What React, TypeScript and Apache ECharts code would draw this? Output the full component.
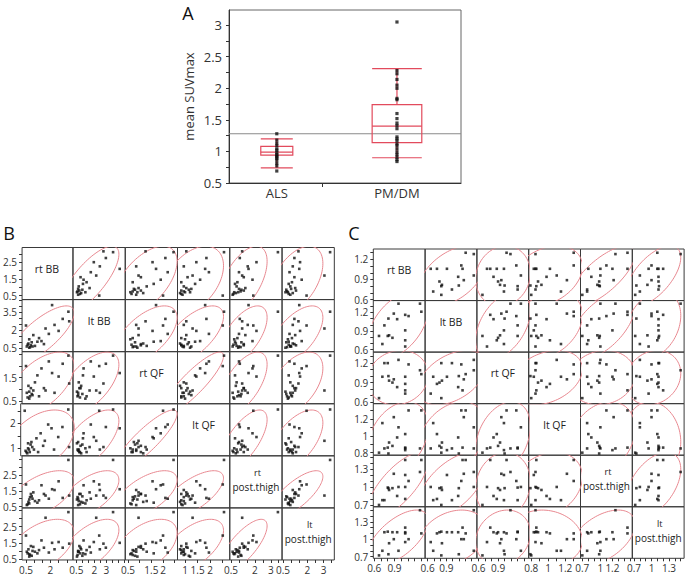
import React, { useEffect, useRef } from "react";
import * as echarts from "echarts";

// ---------- Panel A data ----------
const groups = ["ALS", "PM/DM"];
const alsValues = [1.28, 1.18, 1.13, 1.09, 1.04, 1.02, 0.98, 0.95, 0.93, 0.91, 0.89, 0.86, 0.81, 0.77, 0.69];
const pmdmValues = [3.05, 2.28, 2.23, 2.14, 2.05, 2.0, 1.84, 1.82, 1.6, 1.52, 1.45, 1.41, 1.36, 1.23, 1.2, 1.17, 1.12, 1.09, 1.04, 0.99, 0.95, 0.91, 0.87, 0.84];
// [lower cap, Q1, median, Q3, upper cap]
const alsBox = [0.74, 0.94, 0.99, 1.08, 1.2];
const pmdmBox = [0.9, 1.14, 1.4, 1.74, 2.31];
const grandMean = 1.28;
const yTicksA = [0.5, 1, 1.5, 2, 2.5, 3];

// ---------- Panel B (PM/DM) data ----------
const varNames = ["rt BB", "lt BB", "rt QF", "lt QF", "rt post.thigh", "lt post.thigh"];
const pm_rtBB = [3.10, 2.10, 3.15, 2.75, 2.25, 2.50, 0.50, 1.90, 1.70, 1.45, 1.30, 1.60, 1.20, 0.95, 1.05, 0.85, 0.80, 0.70, 0.90, 0.65, 0.75, 0.60, 0.70, 0.55];
const pm_ltBB = [3.55, 4.10, 2.75, 2.95, 2.45, 1.95, 2.40, 1.70, 2.15, 1.10, 1.35, 0.85, 1.05, 1.60, 0.70, 1.00, 0.75, 1.25, 0.65, 0.90, 0.60, 0.80, 0.55, 0.65];
const pm_rtQF = [2.45, 1.70, 1.25, 2.10, 0.85, 1.55, 2.00, 2.20, 0.95, 1.90, 0.70, 1.05, 1.60, 0.95, 1.30, 0.80, 1.05, 0.60, 0.75, 1.15, 0.70, 0.65, 0.90, 0.85];
const pm_ltQF = [2.55, 1.80, 1.05, 1.85, 0.95, 1.45, 2.50, 1.95, 1.30, 1.60, 0.85, 1.10, 1.40, 1.05, 0.95, 1.15, 0.85, 1.00, 1.25, 0.80, 0.95, 0.85, 1.20, 0.90];
const pm_rtPT = [3.45, 1.60, 1.20, 1.05, 1.55, 2.10, 1.90, 1.00, 1.20, 1.85, 0.90, 1.30, 0.75, 1.40, 0.85, 1.15, 1.30, 0.70, 1.00, 0.80, 1.10, 0.65, 0.95, 0.60];
const pm_ltPT = [3.40, 1.50, 1.45, 1.20, 1.10, 1.55, 1.95, 0.90, 3.05, 1.65, 1.05, 1.20, 0.85, 1.25, 0.95, 0.70, 1.30, 0.80, 1.00, 1.10, 0.75, 0.85, 0.65, 0.95];
const pmRanges = [[0.26, 3.38], [0.22, 4.56], [0.38, 2.62], [0.7, 2.78], [0.42, 3.71], [0.44, 3.66]];
const pmYLabels = [[0.5, 1.5, 2.5], [0.5, 2, 3.5], [0.5, 1.5], [1, 2], [0.5, 1.5, 2.5], [0.5, 1.5, 2.5]];
const pmXLabels = [[0.5, 2], [0.5, 2, 3], [0.5, 1.5, 2], [1, 1.5, 2], [0.5, 2, 3], [0.5, 2, 3]];

// ---------- Panel C (ALS) data ----------
const als_rtBB = [1.30, 1.28, 1.06, 1.06, 1.06, 1.11, 1.06, 0.96, 0.94, 0.87, 0.82, 0.80, 0.72, 0.75, 0.67, 0.89, 0.81];
const als_ltBB = [1.21, 1.34, 0.65, 0.75, 0.91, 1.14, 1.16, 1.34, 1.09, 0.79, 0.83, 0.82, 0.69, 0.99, 0.82, 1.18, 1.10];
const als_rtQF = [1.03, 1.09, 0.73, 0.88, 0.99, 1.18, 0.78, 1.25, 0.83, 0.90, 0.93, 1.20, 0.99, 1.20, 0.66, 0.95, 1.00];
const als_ltQF = [1.30, 0.85, 0.85, 1.02, 0.83, 1.30, 0.86, 1.10, 0.98, 0.88, 0.92, 0.86, 1.15, 0.85, 0.80, 1.22, 0.79];
const als_rtPT = [1.45, 1.25, 1.00, 0.80, 1.20, 1.10, 1.45, 1.00, 0.85, 0.98, 0.95, 0.99, 0.78, 0.78, 0.70, 1.22, 0.98];
const als_ltPT = [1.10, 1.50, 0.95, 1.10, 1.12, 1.00, 1.20, 0.80, 1.12, 1.12, 0.93, 1.13, 0.80, 1.12, 0.72, 1.00, 0.74];
const alsRanges = [[0.585, 1.356], [0.56, 1.39], [0.575, 1.37], [0.77, 1.38], [0.67, 1.53], [0.67, 1.56]];
const alsYLabels = [[0.6, 0.9, 1.2], [0.6, 0.9, 1.2], [0.6, 0.9, 1.2], [0.8, 1, 1.2], [0.7, 1, 1.3], [0.7, 1, 1.3]];
const alsXLabels = [[0.6, 0.9], [0.6, 0.9], [0.6, 0.9], [0.8, 1, 1.2], [0.7, 1, 1.2], [0.7, 1, 1.3]];

// ---------- layout constants ----------
const FONT = "Open Sans";
const groupCenters = [20.6, 72.4];
const groupHalfWidths = [6.9, 10.7];
const groupDivider = 40.2;
const BOX_RED = "#e24a5c";
const ELL_RED = "#e88890";

function tickVals(min: number, max: number, step: number) {
  const out: number[] = [];
  for (let v = Math.ceil(min / step - 1e-9) * step; v <= max + 1e-9; v += step) out.push(+v.toFixed(3));
  return out;
}

function ellipsePts(xs: number[], ys: number[]) {
  const n = xs.length;
  const mx = xs.reduce((a, b) => a + b, 0) / n;
  const my = ys.reduce((a, b) => a + b, 0) / n;
  let sxx = 0, syy = 0, sxy = 0;
  for (let k = 0; k < n; k++) {
    sxx += (xs[k] - mx) ** 2;
    syy += (ys[k] - my) ** 2;
    sxy += (xs[k] - mx) * (ys[k] - my);
  }
  sxx /= n - 1; syy /= n - 1; sxy /= n - 1;
  const a = Math.sqrt(sxx);
  const b = sxy / a;
  const c = Math.sqrt(Math.max(syy - b * b, 1e-9));
  const r = Math.sqrt(5.991);
  const pts: number[][] = [];
  for (let s = 0; s <= 96; s++) {
    const t = (s / 96) * Math.PI * 2;
    pts.push([mx + r * a * Math.cos(t), my + r * (b * Math.cos(t) + c * Math.sin(t))]);
  }
  return pts;
}

const fmt = (v: any) => `${+(+v).toFixed(2)}`;

function buildOption() {
  const grids: any[] = [];
  const xAxes: any[] = [];
  const yAxes: any[] = [];
  const series: any[] = [];
  const graphics: any[] = [];

  // ----- Panel A -----
  grids.push({ left: 229, top: 10, width: 232, height: 173, show: true, borderColor: "#666", borderWidth: 1 });
  xAxes.push({
    gridIndex: 0, type: "value", min: 0, max: 100,
    axisLine: { show: true, onZero: false, lineStyle: { color: "#333" } },
    axisTick: { show: true, customValues: [groupDivider], length: 4, lineStyle: { color: "#333" } },
    axisLabel: {
      customValues: groupCenters, fontSize: 13, margin: 3, color: "#333", fontFamily: FONT,
      formatter: (v: any) => groups[groupCenters.findIndex((c) => Math.abs(c - +v) < 0.01)] ?? "",
    },
    splitLine: { show: false },
  });
  yAxes.push({
    gridIndex: 0, type: "value", min: 0.5, max: 3.24,
    name: "mean SUVmax", nameLocation: "middle", nameGap: 34,
    nameTextStyle: { fontSize: 13, color: "#333", fontFamily: FONT },
    axisLine: { show: true, onZero: false, lineStyle: { color: "#333" } },
    axisTick: { show: true, customValues: tickVals(0.5, 3.24, 0.25), length: 3, lineStyle: { color: "#333" } },
    axisLabel: { customValues: yTicksA, fontSize: 13, margin: 7, color: "#333", fontFamily: FONT, formatter: fmt },
    splitLine: { show: false },
  });
  series.push({
    type: "line", xAxisIndex: 0, yAxisIndex: 0, silent: true, symbol: "none",
    data: [[0, grandMean], [100, grandMean]], lineStyle: { color: "#8a8a8a", width: 1 }, z: 1,
  });
  series.push({
    type: "custom", xAxisIndex: 0, yAxisIndex: 0, silent: true, z: 2,
    data: [[groupCenters[0], ...alsBox], [groupCenters[1], ...pmdmBox]],
    renderItem: (params: any, api: any) => {
      const c = api.value(0);
      const lo = api.value(1), q1 = api.value(2), med = api.value(3), q3 = api.value(4), hi = api.value(5);
      const hw = groupHalfWidths[params.dataIndex];
      const pL = api.coord([c - hw, q3]);
      const pR = api.coord([c + hw, q1]);
      const line = (x1: number, y1: number, x2: number, y2: number) => {
        const a = api.coord([x1, y1]);
        const b = api.coord([x2, y2]);
        return { type: "line", shape: { x1: a[0], y1: a[1], x2: b[0], y2: b[1] }, style: { stroke: BOX_RED, lineWidth: 1.2 } };
      };
      return {
        type: "group",
        children: [
          { type: "rect", shape: { x: pL[0], y: pL[1], width: pR[0] - pL[0], height: pR[1] - pL[1] }, style: { fill: "none", stroke: BOX_RED, lineWidth: 1.2 } },
          line(c - hw, med, c + hw, med),
          line(c - hw, hi, c + hw, hi),
          line(c - hw, lo, c + hw, lo),
          line(c, q3, c, hi),
          line(c, q1, c, lo),
        ],
      };
    },
  });
  series.push({
    type: "scatter", xAxisIndex: 0, yAxisIndex: 0, silent: true, z: 3,
    data: [...alsValues.map((v) => [groupCenters[0], v]), ...pmdmValues.map((v) => [groupCenters[1], v])],
    symbol: "rect", symbolSize: 3.2, itemStyle: { color: "#111" },
  });
  graphics.push({ type: "text", x: 188, y: 12.5, style: { text: "A", fontSize: 18, fontFamily: FONT, fill: "#111", align: "center", verticalAlign: "middle" } });

  // ----- Matrices -----
  const matrix = (cfg: any) => {
    const { vars, ranges, yLabels, xLabels, step, left, top, cw, ch } = cfg;
    for (let i = 0; i < 6; i++) {
      for (let j = 0; j < 6; j++) {
        const gi = grids.length;
        const gx = left + j * cw, gy = top + i * ch;
        grids.push({ left: gx, top: gy, width: cw, height: ch, show: true, borderColor: "#3a3a3a", borderWidth: 1 });
        const isLeft = j === 0, isBottom = i === 5;
        xAxes.push({
          gridIndex: gi, type: "value", min: ranges[j][0], max: ranges[j][1],
          axisLine: { show: false, onZero: false }, splitLine: { show: false },
          axisTick: { show: isBottom, customValues: tickVals(ranges[j][0], ranges[j][1], step), length: 3, lineStyle: { color: "#333" } },
          axisLabel: { show: isBottom, customValues: xLabels[j], formatter: fmt, fontSize: 10, margin: 5, color: "#333", fontFamily: FONT },
        });
        yAxes.push({
          gridIndex: gi, type: "value", min: ranges[i][0], max: ranges[i][1],
          axisLine: { show: false, onZero: false }, splitLine: { show: false },
          axisTick: { show: isLeft, customValues: tickVals(ranges[i][0], ranges[i][1], step), length: 3, lineStyle: { color: "#333" } },
          axisLabel: { show: isLeft, customValues: yLabels[i], formatter: fmt, fontSize: 10, margin: 5, color: "#333", fontFamily: FONT },
        });
        const cx = gx + cw / 2, cy = gy + ch / 2;
        if (i === j) {
          const name: string = varNames[i];
          if (name.indexOf("post.thigh") >= 0) {
            const side = name.split(" ")[0];
            graphics.push({ type: "text", x: cx, y: cy + 5, style: { text: "post.thigh", fontSize: 10, fontFamily: FONT, fill: "#222", align: "center", verticalAlign: "middle" } });
            graphics.push({ type: "text", x: cx + 1.5, y: cy - 9, style: { text: side, fontSize: 9, fontFamily: FONT, fill: "#222", align: "center", verticalAlign: "middle" } });
          } else {
            graphics.push({ type: "text", x: cx, y: cy - 4.5, style: { text: name, fontSize: 10.5, fontFamily: FONT, fill: "#222", align: "center", verticalAlign: "middle" } });
          }
        } else {
          series.push({
            type: "line", xAxisIndex: gi, yAxisIndex: gi, silent: true, symbol: "none", showSymbol: false, clip: true,
            data: ellipsePts(vars[j], vars[i]), lineStyle: { color: ELL_RED, width: 1 }, z: 1,
          });
          series.push({
            type: "scatter", xAxisIndex: gi, yAxisIndex: gi, silent: true, clip: true,
            data: vars[j].map((x: number, k: number) => [x, vars[i][k]]),
            symbol: "rect", symbolSize: 2.6, itemStyle: { color: "#111" }, z: 2,
          });
        }
      }
    }
  };

  matrix({
    vars: [pm_rtBB, pm_ltBB, pm_rtQF, pm_ltQF, pm_rtPT, pm_ltPT],
    ranges: pmRanges, yLabels: pmYLabels, xLabels: pmXLabels, step: 0.5,
    left: 20.7, top: 247.5, cw: 52.27, ch: 52.08,
  });
  matrix({
    vars: [als_rtBB, als_ltBB, als_rtQF, als_ltQF, als_rtPT, als_ltPT],
    ranges: alsRanges, yLabels: alsYLabels, xLabels: alsXLabels, step: 0.1,
    left: 373.3, top: 249, cw: 51.8, ch: 51.55,
  });
  graphics.push({ type: "text", x: 9, y: 233, style: { text: "B", fontSize: 18, fontFamily: FONT, fill: "#111", align: "center", verticalAlign: "middle" } });
  graphics.push({ type: "text", x: 354, y: 233, style: { text: "C", fontSize: 18, fontFamily: FONT, fill: "#111", align: "center", verticalAlign: "middle" } });

  return {
    animation: false,
    backgroundColor: "#ffffff",
    textStyle: { fontFamily: FONT },
    grid: grids,
    xAxis: xAxes,
    yAxis: yAxes,
    series,
    graphic: graphics,
  };
}

export default function App() {
  const ref = useRef<HTMLDivElement>(null);
  useEffect(() => {
    if (!ref.current) return;
    const chart = echarts.init(ref.current, undefined, { renderer: "svg" });
    chart.setOption(buildOption() as any);
    return () => chart.dispose();
  }, []);
  return <div ref={ref} style={{ width: 686, height: 578, position: "absolute", left: 0, top: 0 }} />;
}
